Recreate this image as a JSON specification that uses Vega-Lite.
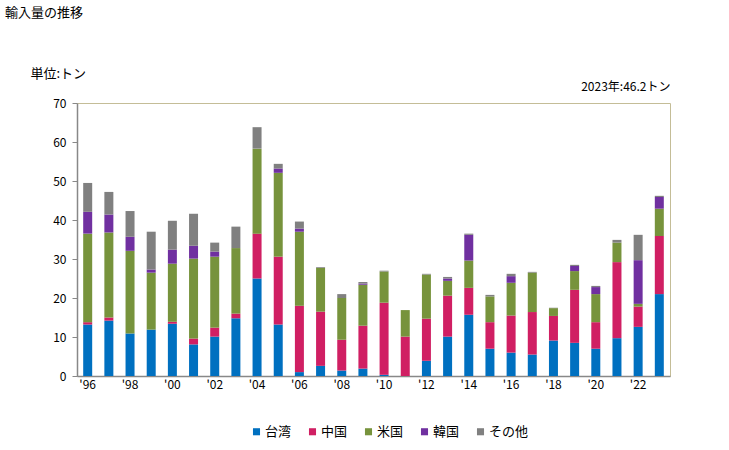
{
  "$schema": "https://vega.github.io/schema/vega-lite/v6.json",
  "width": 593,
  "height": 273,
  "autosize": {"type": "none"},
  "padding": {"left": 77, "top": 103, "right": 59, "bottom": 74},
  "background": "white",
  "title": {
    "text": "輸入量の推移",
    "anchor": "start",
    "frame": "group",
    "dx": -72,
    "offset": 47,
    "fontSize": 13,
    "fontWeight": "normal",
    "font": "Noto Sans CJK JP",
    "color": "#000000"
  },
  "config": {
    "font": "Noto Sans CJK JP",
    "view": {"stroke": "#c4bd97", "strokeWidth": 1}
  },
  "data": {
    "values": [
      {"year": "1996", "country": "台湾", "ord": 1, "value": 13.2},
      {"year": "1996", "country": "中国", "ord": 2, "value": 0.6},
      {"year": "1996", "country": "米国", "ord": 3, "value": 22.7},
      {"year": "1996", "country": "韓国", "ord": 4, "value": 5.6},
      {"year": "1996", "country": "その他", "ord": 5, "value": 7.4},
      {"year": "1997", "country": "台湾", "ord": 1, "value": 14.2},
      {"year": "1997", "country": "中国", "ord": 2, "value": 0.8},
      {"year": "1997", "country": "米国", "ord": 3, "value": 21.8},
      {"year": "1997", "country": "韓国", "ord": 4, "value": 4.6},
      {"year": "1997", "country": "その他", "ord": 5, "value": 5.8},
      {"year": "1998", "country": "台湾", "ord": 1, "value": 10.9},
      {"year": "1998", "country": "米国", "ord": 3, "value": 21.2},
      {"year": "1998", "country": "韓国", "ord": 4, "value": 3.6},
      {"year": "1998", "country": "その他", "ord": 5, "value": 6.6},
      {"year": "1999", "country": "台湾", "ord": 1, "value": 11.9},
      {"year": "1999", "country": "米国", "ord": 3, "value": 14.6},
      {"year": "1999", "country": "韓国", "ord": 4, "value": 0.8},
      {"year": "1999", "country": "その他", "ord": 5, "value": 9.7},
      {"year": "2000", "country": "台湾", "ord": 1, "value": 13.4},
      {"year": "2000", "country": "中国", "ord": 2, "value": 0.5},
      {"year": "2000", "country": "米国", "ord": 3, "value": 14.9},
      {"year": "2000", "country": "韓国", "ord": 4, "value": 3.6},
      {"year": "2000", "country": "その他", "ord": 5, "value": 7.4},
      {"year": "2001", "country": "台湾", "ord": 1, "value": 8.1},
      {"year": "2001", "country": "中国", "ord": 2, "value": 1.5},
      {"year": "2001", "country": "米国", "ord": 3, "value": 20.5},
      {"year": "2001", "country": "韓国", "ord": 4, "value": 3.3},
      {"year": "2001", "country": "その他", "ord": 5, "value": 8.2},
      {"year": "2002", "country": "台湾", "ord": 1, "value": 10.1},
      {"year": "2002", "country": "中国", "ord": 2, "value": 2.3},
      {"year": "2002", "country": "米国", "ord": 3, "value": 18.2},
      {"year": "2002", "country": "韓国", "ord": 4, "value": 1.3},
      {"year": "2002", "country": "その他", "ord": 5, "value": 2.3},
      {"year": "2003", "country": "台湾", "ord": 1, "value": 14.8},
      {"year": "2003", "country": "中国", "ord": 2, "value": 1.2},
      {"year": "2003", "country": "米国", "ord": 3, "value": 16.8},
      {"year": "2003", "country": "その他", "ord": 5, "value": 5.5},
      {"year": "2004", "country": "台湾", "ord": 1, "value": 25.0},
      {"year": "2004", "country": "中国", "ord": 2, "value": 11.5},
      {"year": "2004", "country": "米国", "ord": 3, "value": 21.8},
      {"year": "2004", "country": "その他", "ord": 5, "value": 5.5},
      {"year": "2005", "country": "台湾", "ord": 1, "value": 13.2},
      {"year": "2005", "country": "中国", "ord": 2, "value": 17.4},
      {"year": "2005", "country": "米国", "ord": 3, "value": 21.5},
      {"year": "2005", "country": "韓国", "ord": 4, "value": 1.1},
      {"year": "2005", "country": "その他", "ord": 5, "value": 1.2},
      {"year": "2006", "country": "台湾", "ord": 1, "value": 1.0},
      {"year": "2006", "country": "中国", "ord": 2, "value": 17.0},
      {"year": "2006", "country": "米国", "ord": 3, "value": 19.0},
      {"year": "2006", "country": "韓国", "ord": 4, "value": 0.8},
      {"year": "2006", "country": "その他", "ord": 5, "value": 1.8},
      {"year": "2007", "country": "台湾", "ord": 1, "value": 2.6},
      {"year": "2007", "country": "中国", "ord": 2, "value": 13.9},
      {"year": "2007", "country": "米国", "ord": 3, "value": 11.2},
      {"year": "2007", "country": "その他", "ord": 5, "value": 0.2},
      {"year": "2008", "country": "台湾", "ord": 1, "value": 1.4},
      {"year": "2008", "country": "中国", "ord": 2, "value": 7.9},
      {"year": "2008", "country": "米国", "ord": 3, "value": 10.7},
      {"year": "2008", "country": "その他", "ord": 5, "value": 1.0},
      {"year": "2009", "country": "台湾", "ord": 1, "value": 1.9},
      {"year": "2009", "country": "中国", "ord": 2, "value": 11.0},
      {"year": "2009", "country": "米国", "ord": 3, "value": 10.5},
      {"year": "2009", "country": "韓国", "ord": 4, "value": 0.3},
      {"year": "2009", "country": "その他", "ord": 5, "value": 0.4},
      {"year": "2010", "country": "台湾", "ord": 1, "value": 0.3},
      {"year": "2010", "country": "中国", "ord": 2, "value": 18.5},
      {"year": "2010", "country": "米国", "ord": 3, "value": 8.0},
      {"year": "2010", "country": "その他", "ord": 5, "value": 0.2},
      {"year": "2011", "country": "中国", "ord": 2, "value": 10.1},
      {"year": "2011", "country": "米国", "ord": 3, "value": 6.8},
      {"year": "2012", "country": "台湾", "ord": 1, "value": 3.9},
      {"year": "2012", "country": "中国", "ord": 2, "value": 10.8},
      {"year": "2012", "country": "米国", "ord": 3, "value": 11.3},
      {"year": "2012", "country": "その他", "ord": 5, "value": 0.2},
      {"year": "2013", "country": "台湾", "ord": 1, "value": 10.1},
      {"year": "2013", "country": "中国", "ord": 2, "value": 10.5},
      {"year": "2013", "country": "米国", "ord": 3, "value": 3.8},
      {"year": "2013", "country": "韓国", "ord": 4, "value": 0.6},
      {"year": "2013", "country": "その他", "ord": 5, "value": 0.4},
      {"year": "2014", "country": "台湾", "ord": 1, "value": 15.7},
      {"year": "2014", "country": "中国", "ord": 2, "value": 6.9},
      {"year": "2014", "country": "米国", "ord": 3, "value": 7.0},
      {"year": "2014", "country": "韓国", "ord": 4, "value": 6.6},
      {"year": "2014", "country": "その他", "ord": 5, "value": 0.3},
      {"year": "2015", "country": "台湾", "ord": 1, "value": 7.0},
      {"year": "2015", "country": "中国", "ord": 2, "value": 6.8},
      {"year": "2015", "country": "米国", "ord": 3, "value": 6.6},
      {"year": "2015", "country": "その他", "ord": 5, "value": 0.4},
      {"year": "2016", "country": "台湾", "ord": 1, "value": 6.0},
      {"year": "2016", "country": "中国", "ord": 2, "value": 9.5},
      {"year": "2016", "country": "米国", "ord": 3, "value": 8.4},
      {"year": "2016", "country": "韓国", "ord": 4, "value": 1.7},
      {"year": "2016", "country": "その他", "ord": 5, "value": 0.6},
      {"year": "2017", "country": "台湾", "ord": 1, "value": 5.5},
      {"year": "2017", "country": "中国", "ord": 2, "value": 10.9},
      {"year": "2017", "country": "米国", "ord": 3, "value": 10.1},
      {"year": "2017", "country": "その他", "ord": 5, "value": 0.2},
      {"year": "2018", "country": "台湾", "ord": 1, "value": 9.1},
      {"year": "2018", "country": "中国", "ord": 2, "value": 6.3},
      {"year": "2018", "country": "米国", "ord": 3, "value": 2.0},
      {"year": "2018", "country": "その他", "ord": 5, "value": 0.1},
      {"year": "2019", "country": "台湾", "ord": 1, "value": 8.5},
      {"year": "2019", "country": "中国", "ord": 2, "value": 13.6},
      {"year": "2019", "country": "米国", "ord": 3, "value": 4.8},
      {"year": "2019", "country": "韓国", "ord": 4, "value": 1.3},
      {"year": "2019", "country": "その他", "ord": 5, "value": 0.3},
      {"year": "2020", "country": "台湾", "ord": 1, "value": 7.0},
      {"year": "2020", "country": "中国", "ord": 2, "value": 6.8},
      {"year": "2020", "country": "米国", "ord": 3, "value": 7.2},
      {"year": "2020", "country": "韓国", "ord": 4, "value": 1.8},
      {"year": "2020", "country": "その他", "ord": 5, "value": 0.3},
      {"year": "2021", "country": "台湾", "ord": 1, "value": 9.7},
      {"year": "2021", "country": "中国", "ord": 2, "value": 19.5},
      {"year": "2021", "country": "米国", "ord": 3, "value": 5.0},
      {"year": "2021", "country": "その他", "ord": 5, "value": 0.7},
      {"year": "2022", "country": "台湾", "ord": 1, "value": 12.6},
      {"year": "2022", "country": "中国", "ord": 2, "value": 5.2},
      {"year": "2022", "country": "米国", "ord": 3, "value": 0.7},
      {"year": "2022", "country": "韓国", "ord": 4, "value": 11.2},
      {"year": "2022", "country": "その他", "ord": 5, "value": 6.5},
      {"year": "2023", "country": "台湾", "ord": 1, "value": 21.0},
      {"year": "2023", "country": "中国", "ord": 2, "value": 14.9},
      {"year": "2023", "country": "米国", "ord": 3, "value": 7.0},
      {"year": "2023", "country": "韓国", "ord": 4, "value": 3.0},
      {"year": "2023", "country": "その他", "ord": 5, "value": 0.3}
    ]
  },
  "mark": {"type": "bar", "width": 9},
  "encoding": {
    "x": {
      "field": "year",
      "type": "ordinal",
      "scale": {"paddingInner": 0.55, "paddingOuter": 0.28},
      "axis": {
        "title": "2023年:46.2トン",
        "titleFontSize": 12,
        "titleFontWeight": "normal",
        "titleColor": "#000000",
        "titleAnchor": "end",
        "titleAlign": "right",
        "titleBaseline": "bottom",
        "titleX": 593,
        "titleY": -283,
        "labelAngle": 0,
        "labelExpr": "toNumber(datum.value) % 2 == 0 ? \"'\" + substring(datum.value, 2, 4) : ''",
        "labelFontSize": 12,
        "labelColor": "#000000",
        "labelPadding": 3,
        "ticks": false,
        "domainColor": "#888888",
        "domainWidth": 1.5
      }
    },
    "y": {
      "field": "value",
      "type": "quantitative",
      "stack": "zero",
      "scale": {"domain": [0, 70], "nice": false},
      "axis": {
        "values": [0, 10, 20, 30, 40, 50, 60, 70],
        "grid": false,
        "title": "単位:トン",
        "titleAngle": 0,
        "titleFontSize": 13,
        "titleFontWeight": "normal",
        "titleColor": "#000000",
        "titleAlign": "left",
        "titleBaseline": "bottom",
        "titleX": -47,
        "titleY": -23,
        "labelFontSize": 12,
        "labelColor": "#000000",
        "labelPadding": 6,
        "tickSize": 5,
        "tickColor": "#888888",
        "domainColor": "#888888",
        "domainWidth": 1.5
      }
    },
    "color": {
      "field": "country",
      "type": "nominal",
      "scale": {
        "domain": ["台湾", "中国", "米国", "韓国", "その他"],
        "range": ["#0070c0", "#d01f63", "#77933c", "#7030a0", "#808080"]
      },
      "legend": {
        "title": null,
        "orient": "none",
        "direction": "horizontal",
        "legendX": 173,
        "legendY": 322,
        "symbolType": "square",
        "symbolSize": 50,
        "symbolStrokeWidth": 0,
        "labelFontSize": 13,
        "labelColor": "#000000",
        "labelOffset": 2,
        "columnPadding": 14
      }
    },
    "order": {"field": "ord", "type": "quantitative"}
  }
}
